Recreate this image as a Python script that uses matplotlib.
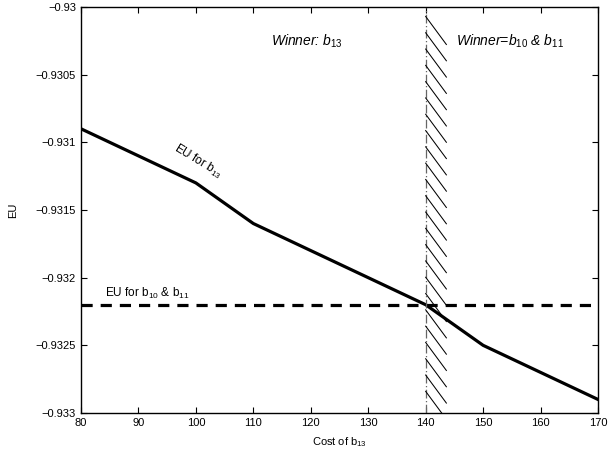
import numpy as np
import matplotlib
matplotlib.use("Agg")
import matplotlib.pyplot as plt

plt.rcParams['font.family'] = ['Liberation Sans', 'DejaVu Sans']
plt.rcParams['mathtext.fontset'] = 'custom'
plt.rcParams['mathtext.rm'] = 'Liberation Sans'
plt.rcParams['mathtext.it'] = 'Liberation Sans:italic'
plt.rcParams['mathtext.bf'] = 'Liberation Sans:bold'

# Data
cost = [80, 100, 110, 140, 150, 170]
eu_b13 = [-0.9309, -0.9313, -0.9316, -0.9322, -0.9325, -0.9329]
eu_b10_b11 = -0.9322
threshold = 140

xticks = [80, 90, 100, 110, 120, 130, 140, 150, 160, 170]
yticks = [-0.93, -0.9305, -0.931, -0.9315, -0.932, -0.9325, -0.933]
ytick_labels = ['\u22120.93', '\u22120.9305', '\u22120.931', '\u22120.9315',
                '\u22120.932', '\u22120.9325', '\u22120.933']

fig = plt.figure(figsize=(6.08, 4.54), dpi=100)
ax = fig.add_axes([0.1332, 0.0903, 0.8504, 0.8943])

ax.plot(cost, eu_b13, color='black', lw=2.3, solid_joinstyle='round')
ax.axhline(eu_b10_b11, color='black', lw=2.3, ls=(0, (3.5, 2.5)))
ax.axvline(threshold, color='#666666', lw=0.9, ls=(0, (7, 2, 1, 2)))

# hatch decoration right of threshold
hatch_dx = 3.6
hatch_dy = 0.000207
hatch_starts = np.linspace(-0.93007, -0.93284, 24)
for y0 in hatch_starts:
    ax.plot([threshold, threshold + hatch_dx], [y0, y0 - hatch_dy],
            color='black', lw=0.75, clip_on=True)

ax.set_xlim(80, 170)
ax.set_ylim(-0.933, -0.93)
ax.set_xticks(xticks)
ax.set_xticklabels([str(v) for v in xticks])
ax.set_yticks(yticks)
ax.set_yticklabels(ytick_labels)
ax.tick_params(direction='in', top=True, right=True, labelsize=8, length=4, width=0.8)
for s in ax.spines.values():
    s.set_linewidth(1.0)

ax.set_xlabel('Cost of b$_{13}$', fontsize=8, labelpad=5)
ax.set_ylabel('EU', fontsize=8, labelpad=13)

ax.text(119.3, -0.93025, r'Winner: $\mathit{b}_{\mathit{13}}$', fontsize=10,
        style='italic', ha='center', va='center')
ax.text(145.3, -0.93025, r'Winner=$\mathit{b}_{\mathit{10}}$ & $\mathit{b}_{\mathit{11}}$',
        fontsize=10, style='italic', ha='left', va='center')
ax.text(100.4, -0.93114, 'EU for b$_{13}$', fontsize=8.5, rotation=-31,
        ha='center', va='center', rotation_mode='anchor')
ax.text(84.2, -0.93212, 'EU for b$_{10}$ & b$_{11}$', fontsize=8.5,
        ha='left', va='center')

fig.savefig('out.png', dpi=100)
